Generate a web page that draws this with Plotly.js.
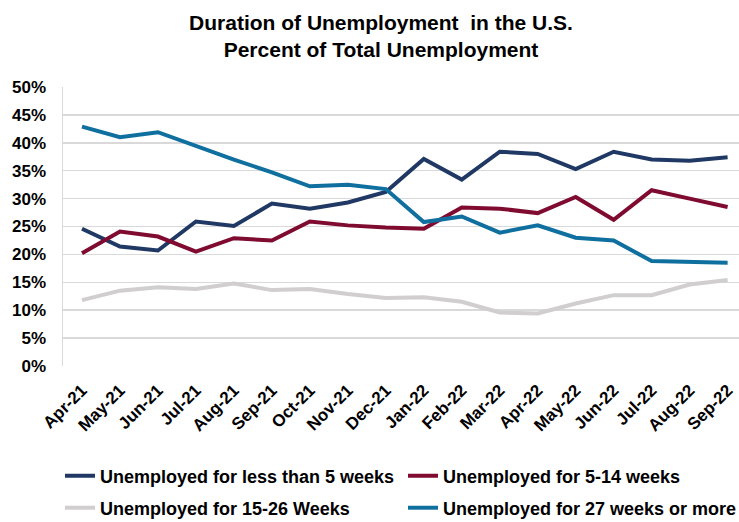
<!DOCTYPE html>
<html>
<head>
<meta charset="utf-8">
<script src="https://cdn.plot.ly/plotly-3.0.1.min.js"></script>
<style>
  body { margin: 0; background: #fff; }
  #graph { width: 739px; height: 522px; }
</style>
</head>
<body>
<div id="graph"></div>
<script>
const months = ['Apr-21', 'May-21', 'Jun-21', 'Jul-21', 'Aug-21', 'Sep-21', 'Oct-21', 'Nov-21', 'Dec-21',
    'Jan-22', 'Feb-22', 'Mar-22', 'Apr-22', 'May-22', 'Jun-22', 'Jul-22', 'Aug-22', 'Sep-22']

const lessThan5 = [24.6, 21.4, 20.7, 25.9, 25.1, 29.1, 28.2, 29.3, 31.2, 37.1, 33.4, 38.4, 38.0, 35.3, 38.4, 37.0, 36.8, 37.4]
const weeks5to14 = [20.2, 24.1, 23.2, 20.5, 22.9, 22.5, 25.9, 25.2, 24.8, 24.6, 28.4, 28.2, 27.4, 30.3, 26.2, 31.5, 30.0, 28.5]
const weeks15to26 = [11.8, 13.5, 14.1, 13.8, 14.8, 13.6, 13.8, 12.9, 12.2, 12.3, 11.5, 9.6, 9.4, 11.2, 12.7, 12.7, 14.6, 15.4]
const weeks27plus = [42.9, 41.0, 41.9, 39.4, 37.0, 34.7, 32.2, 32.5, 31.7, 25.8, 26.8, 23.9, 25.2, 23.0, 22.5, 18.8, 18.7, 18.5]

const names = ['Unemployed for less than 5 weeks', 'Unemployed for 5-14 weeks',
    'Unemployed for 15-26 Weeks', 'Unemployed for 27 weeks or more']
const colors = ['#203864', '#7f0b30', '#d0cece', '#0f6f9f']
const series = [lessThan5, weeks5to14, weeks15to26, weeks27plus]

// one legend per entry so the 2x2 grid can be placed like the original
const legendIds = ['legend', 'legend2', 'legend3', 'legend4']
const legendX = [60, 403, 60, 403]
const legendY = [476, 476, 508, 508]

const xIdx = months.map((m, i) => i)
const yTicks = [0, 5, 10, 15, 20, 25, 30, 35, 40, 45, 50]

const graphData = series.map((s, i) => ({
    x: xIdx,
    y: s,
    name: '<b>' + names[i] + '</b>',
    legend: legendIds[i],
    mode: 'lines',
    type: 'scatter',
    line: { color: colors[i], width: 4 },
    hoverinfo: 'skip'
}))

const layout = {
    width: 739,
    height: 522,
    margin: { l: 63, r: 0, t: 87, b: 156 },
    paper_bgcolor: '#fff',
    plot_bgcolor: '#fff',
    font: { family: 'Liberation Sans, Arial, sans-serif', color: '#000' },
    title: {
        text: '<b>Duration of Unemployment  in the U.S.<br>Percent of Total Unemployment</b>',
        font: { size: 21, color: '#000' },
        x: 381 / 739,
        xref: 'container',
        xanchor: 'center',
        yref: 'container',
        y: 1 - 30 / 522,
        yanchor: 'middle'
    },
    xaxis: {
        range: [-0.5, 17.3],
        tickvals: xIdx,
        ticktext: months.map(m => '<b>' + m + '</b>'),
        tickangle: -45,
        tickfont: { size: 17, color: '#000' },
        showgrid: false,
        zeroline: false,
        showline: false,
        ticks: '',
        ticklabelstandoff: 10
    },
    yaxis: {
        range: [0, 50],
        tickvals: yTicks,
        ticktext: yTicks.map(v => '<b>' + v + '%</b>'),
        tickfont: { size: 17, color: '#000' },
        gridcolor: '#d9d9d9',
        gridwidth: 1.5,
        zeroline: false,
        showline: true,
        linecolor: '#d9d9d9',
        linewidth: 1.5,
        ticklabelstandoff: 12
    },
    showlegend: true
}

legendIds.forEach((id, i) => {
    layout[id] = {
        orientation: 'h',
        xref: 'container',
        yref: 'container',
        x: legendX[i] / 739,
        xanchor: 'left',
        y: 1 - legendY[i] / 522,
        yanchor: 'middle',
        font: { size: 18, color: '#000' },
        bgcolor: 'rgba(0,0,0,0)'
    }
})

Plotly.newPlot('graph', graphData, layout, { displayModeBar: false, staticPlot: true })
</script>
</body>
</html>
